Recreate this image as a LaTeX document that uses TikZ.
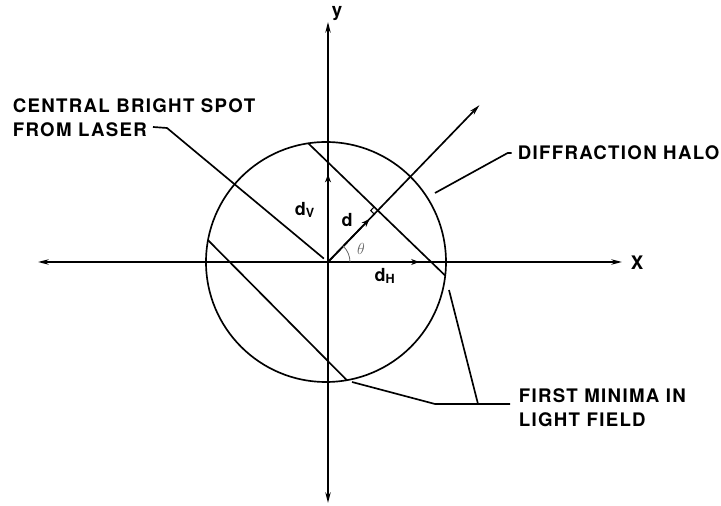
\documentclass[tikz,border=0pt]{standalone}
\usepackage{fontspec}
\newfontfamily\lblfont{TeX Gyre Heros}[LetterSpace=7]
\usetikzlibrary{arrows.meta,calc}

\begin{document}
\begin{tikzpicture}[x=0.75pt, y=0.75pt, line width=1.25pt,
  lbl/.style={font=\lblfont\bfseries\fontsize{14}{18}\selectfont, align=left, inner sep=0pt},
  dlbl/.style={font=\lblfont\bfseries\fontsize{13.5}{15}\selectfont, inner sep=0pt},
  ax/.style={{Stealth[length=8pt,width=4pt]}-{Stealth[length=8pt,width=4pt]}},
  mk/.style={-{Stealth[length=6pt,width=4.5pt]}, shorten >=9pt}]
  \useasboundingbox (-328,-244) rectangle (393,262);
  \coordinate (O) at (0,0);
  % axes
  \coordinate (xl) at (-290,0);
  \coordinate (xr) at (294,0);
  \coordinate (yt) at (0,240);
  \coordinate (yb) at (0,-241);
  \draw[ax] (xl) -- (xr);
  \draw[ax] (yb) -- (yt);
  \node[lbl] (xlbl) at (309,-1) {X};
  \node[lbl] (ylbl) at (9,248) {y};
  % halo
  \draw (-2,0) circle (120);
  % first minima, two chords
  \coordinate (c1a) at ($(-2,0)+(98.5:120)$);
  \coordinate (c1b) at ($(-2,0)+(-6.5:120)$);
  \coordinate (c2a) at ($(-2,0)+(169.5:120)$);
  \coordinate (c2b) at ($(-2,0)+(280:120)$);
  \draw (c1a) -- (c1b);
  \draw (c2a) -- (c2b);
  % d direction
  \coordinate (dtip) at (46:218);
  \coordinate (F) at ($(c1a)!(O)!(c1b)$);
  \coordinate (dv) at (intersection of c1a--c1b and O--yt);
  \coordinate (dh) at (intersection of c1a--c1b and O--xr);
  \draw[-{Stealth[length=8pt,width=4pt]}] (O) -- (dtip);
  \draw[mk] (O) -- (F);
  \draw[mk] (O) -- (dv);
  \draw[mk] (O) -- (dh);
  \draw[line width=0.8pt] (F) ++(226:5) -- ++(136:5) -- ++(46:5);
  \draw[line width=0.6pt, black!60] (22,0) arc[start angle=0, end angle=46, radius=22];
  \node[font=\large, text=black!60] (th) at (33,13) {$\theta$};
  \node[dlbl] (dvl) at (-23,52) {d\textsubscript{V}};
  \node[dlbl] (dl) at (19,42) {d};
  \node[dlbl] (dhl) at (57,-14) {d\textsubscript{H}};
  % labels and leaders
  \node[lbl, anchor=west] (spot) at (-316,144) {CENTRAL BRIGHT SPOT\\FROM LASER};
  \coordinate (spotlead) at (-175,135);
  \draw[shorten >=4pt] (spotlead) -- ++(14,-1) -- (O);
  \node[lbl, anchor=west] (halo) at (189,109) {DIFFRACTION HALO};
  \coordinate (halopt) at (107,69);
  \draw ([xshift=-4]halo.west) -- ++(-4,0) -- (halopt);
  \node[lbl, anchor=west] (minima) at (190,-145.5) {FIRST MINIMA IN\\LIGHT FIELD};
  \coordinate (m1) at (24,-120);
  \coordinate (m2) at (121,-28);
  \coordinate (elbow) at (107,-142);
  \coordinate (m2end) at (150,-142);
  \coordinate (minend) at (182,-142);
  \draw (m1) -- (elbow) -- (minend);
  \draw (m2) -- (m2end);
\end{tikzpicture}
\end{document}
